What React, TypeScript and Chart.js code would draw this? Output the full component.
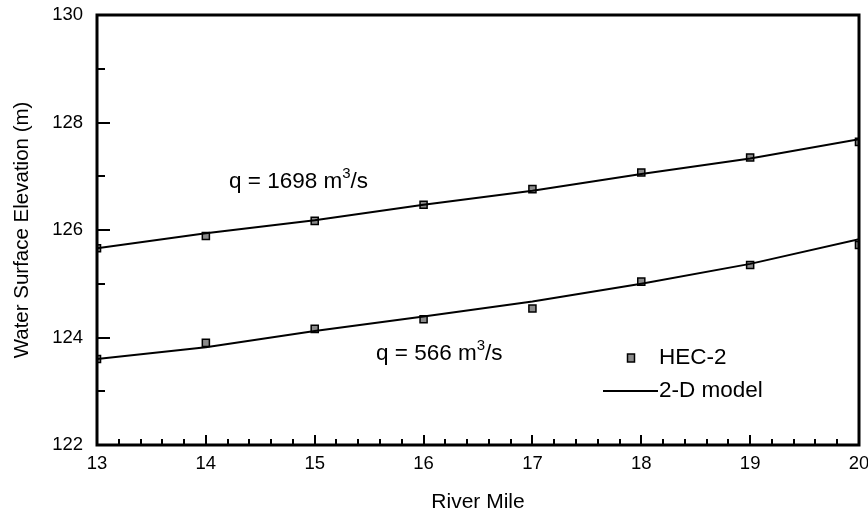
import React, { useEffect, useRef } from "react";
import { Chart, registerables } from "chart.js";

Chart.register(...registerables);

const riverMiles = [13, 14, 15, 16, 17, 18, 19, 20];
const model1698 = [125.66, 125.94, 126.18, 126.47, 126.73, 127.04, 127.33, 127.69];
const model566 = [123.6, 123.82, 124.12, 124.39, 124.67, 125.0, 125.37, 125.83];
const hec1698 = [125.66, 125.89, 126.17, 126.47, 126.76, 127.07, 127.35, 127.64];
const hec566 = [123.6, 123.9, 124.16, 124.34, 124.54, 125.04, 125.35, 125.72];

const xMin = 13;
const xMax = 20;
const yMin = 122;
const yMax = 130;
const xTitle = "River Mile";
const yTitle = "Water Surface Elevation (m)";
const legendLabels = ["HEC-2", "2-D model"];
const annotations = [
  { prefix: "q = 1698 m", sup: "3", suffix: "/s", x: 14.213, y: 126.78 },
  { prefix: "q = 566 m", sup: "3", suffix: "/s", x: 15.563, y: 123.58 },
];

const FONT = "'Liberation Sans', Arial, Helvetica, sans-serif";

const toPoints = (ys: number[]) => riverMiles.map((x, i) => ({ x, y: ys[i] }));

const overlayPlugin = {
  id: "overlay",
  afterDraw(chart: any) {
    const { ctx, chartArea: a, scales } = chart;
    const x = scales.x;
    const y = scales.y;
    ctx.save();
    ctx.strokeStyle = "#000";
    ctx.fillStyle = "#000";
    ctx.lineWidth = 2;
    ctx.lineCap = "butt";
    for (let i = 0; i <= (xMax - xMin) * 5; i++) {
      const v = xMin + i * 0.2;
      const px = Math.round(x.getPixelForValue(v));
      const major = i % 5 === 0;
      const len = major ? 10 : 6;
      ctx.beginPath();
      ctx.moveTo(px, a.bottom);
      ctx.lineTo(px, a.bottom - len);
      ctx.stroke();
    }
    for (let v = yMin; v <= yMax; v += 1) {
      const py = Math.round(y.getPixelForValue(v));
      const major = v % 2 === 0;
      const len = major ? 13 : 8;
      ctx.beginPath();
      ctx.moveTo(a.left, py);
      ctx.lineTo(a.left + len, py);
      ctx.stroke();
    }
    ctx.lineWidth = 3;
    ctx.strokeRect(a.left, a.top, a.right - a.left, a.bottom - a.top);

    ctx.textBaseline = "alphabetic";
    ctx.textAlign = "left";
    for (const an of annotations) {
      let px = x.getPixelForValue(an.x);
      const py = y.getPixelForValue(an.y);
      ctx.font = `22.5px ${FONT}`;
      ctx.fillText(an.prefix, px, py);
      px += ctx.measureText(an.prefix).width;
      ctx.font = `15px ${FONT}`;
      ctx.fillText(an.sup, px, py - 10);
      px += ctx.measureText(an.sup).width;
      ctx.font = `22.5px ${FONT}`;
      ctx.fillText(an.suffix, px, py);
    }

    const mx = a.left + 534;
    const my = a.top + 343;
    ctx.fillStyle = "#8a8a8a";
    ctx.fillRect(mx - 3.5, my - 4, 7, 8);
    ctx.lineWidth = 1.5;
    ctx.strokeStyle = "#000";
    ctx.strokeRect(mx - 3.5, my - 4, 7, 8);
    ctx.lineWidth = 2;
    ctx.beginPath();
    ctx.moveTo(a.left + 506, a.top + 376);
    ctx.lineTo(a.left + 561, a.top + 376);
    ctx.stroke();
    ctx.fillStyle = "#000";
    ctx.font = `22.5px ${FONT}`;
    ctx.textBaseline = "middle";
    ctx.fillText(legendLabels[0], a.left + 562, my);
    ctx.fillText(legendLabels[1], a.left + 562, a.top + 376);
    ctx.restore();
  },
};

export default function App() {
  const ref = useRef<HTMLCanvasElement>(null);
  useEffect(() => {
    if (!ref.current) return;
    const markerStyle = {
      showLine: false,
      pointStyle: "rect",
      pointRadius: 5,
      pointBackgroundColor: "#8a8a8a",
      pointBorderColor: "#000",
      pointBorderWidth: 1.5,
      borderColor: "#000",
      backgroundColor: "#8a8a8a",
    };
    const lineStyle = {
      showLine: true,
      borderColor: "#000",
      borderWidth: 2,
      pointRadius: 0,
      tension: 0,
      fill: false,
    };
    const chart = new Chart(ref.current, {
      type: "scatter",
      data: {
        datasets: [
          { label: "HEC-2 1698", data: toPoints(hec1698), ...markerStyle, order: 2 } as any,
          { label: "HEC-2 566", data: toPoints(hec566), ...markerStyle, order: 2 } as any,
          { label: "2-D 1698", data: toPoints(model1698), ...lineStyle, order: 1 } as any,
          { label: "2-D 566", data: toPoints(model566), ...lineStyle, order: 1 } as any,
        ],
      },
      options: {
        responsive: false,
        animation: false,
        layout: { padding: { top: 15, right: 9, left: 0, bottom: 0 } },
        plugins: { legend: { display: false }, tooltip: { enabled: false } },
        scales: {
          x: {
            type: "linear",
            min: xMin,
            max: xMax,
            grid: { display: false, drawTicks: false },
            border: { display: false },
            ticks: {
              stepSize: 1,
              autoSkip: false,
              color: "#000",
              font: { family: FONT, size: 18.5 },
              padding: 8,
              maxRotation: 0,
            },
            title: {
              display: true,
              text: xTitle,
              color: "#000",
              font: { family: FONT, size: 21 },
              padding: { top: 0, bottom: 1 },
            },
            afterFit: (s: any) => {
              s.height = 71;
              s.paddingLeft = 0;
              s.paddingRight = 0;
            },
          },
          y: {
            type: "linear",
            min: yMin,
            max: yMax,
            grid: { display: false, drawTicks: false },
            border: { display: false },
            ticks: {
              stepSize: 2,
              color: "#000",
              font: { family: FONT, size: 18.5 },
              padding: 14,
            },
            title: {
              display: true,
              text: yTitle,
              color: "#000",
              font: { family: FONT, size: 20.5 },
              padding: { top: 10, bottom: 0 },
            },
            afterFit: (s: any) => {
              s.width = 97;
              s.paddingTop = 0;
              s.paddingBottom = 0;
            },
          },
        },
      },
      plugins: [overlayPlugin],
    } as any);
    return () => chart.destroy();
  }, []);
  return (
    <div style={{ position: "fixed", left: 0, top: 0, width: 868, height: 516, background: "#fff" }}>
      <canvas ref={ref} width={868} height={516} style={{ display: "block" }} />
    </div>
  );
}
